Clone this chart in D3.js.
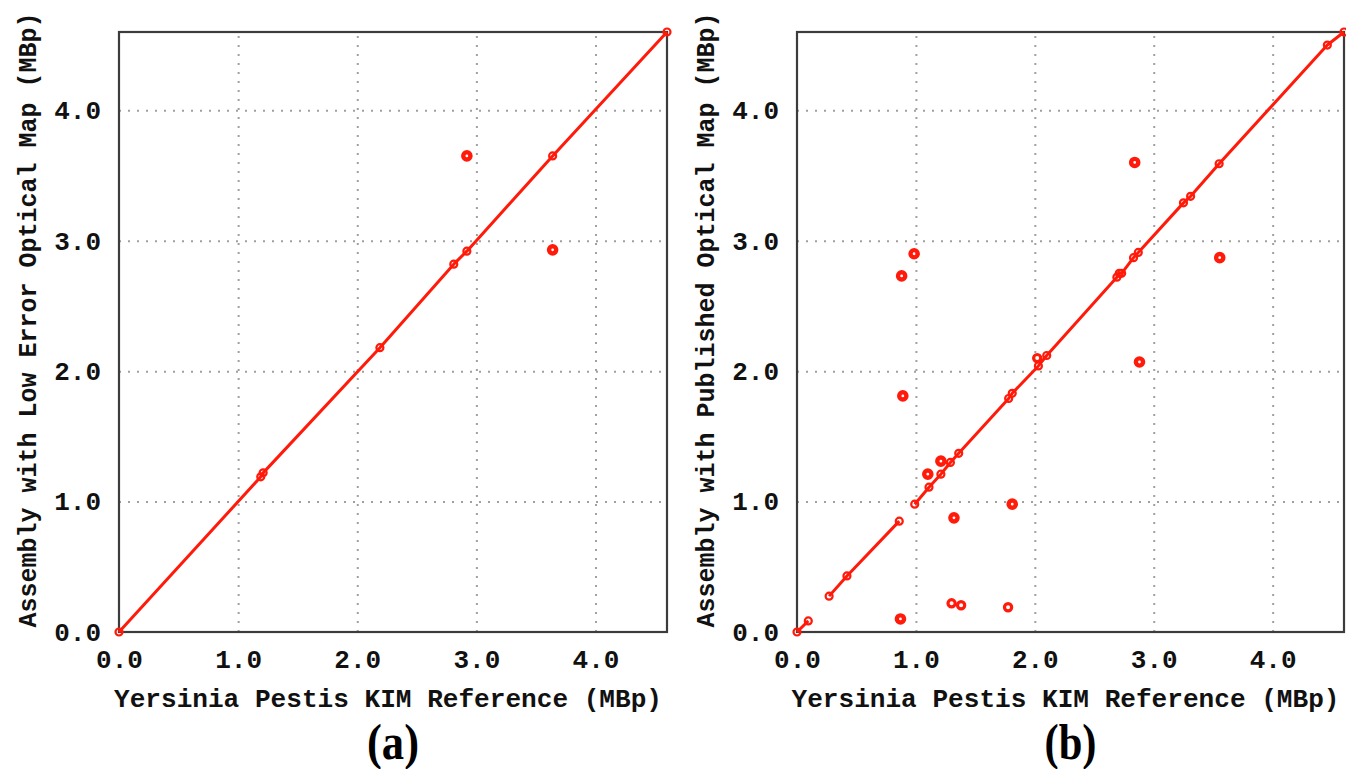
<!DOCTYPE html>
<html>
<head>
<meta charset="utf-8">
<script src="https://cdn.jsdelivr.net/npm/d3@7"></script>
<style>
  body { margin: 0; background: #fff; }
  svg { display: block; }
  .tick text { font-family: "Liberation Mono", monospace; font-weight: bold; fill: #111; }
  .ttl { font-family: "Liberation Mono", monospace; font-weight: bold; fill: #111; }
  .cap { font-family: "Liberation Serif", serif; fill: #000; }
</style>
</head>
<body>
<div id="chart"></div>
<script>
// tick values (MBp)
var ticks = [0, 1, 2, 3, 4];

// (a) low error optical map: aligned contig ends along the diagonal
var aLineRef = [0, 1.19, 1.21, 2.19, 2.81, 2.92, 3.64, 4.6];
var aLineAsm = [0, 1.19, 1.22, 2.18, 2.82, 2.92, 3.65, 4.6];
// (a) off-diagonal contigs
var aOutRef = [2.92, 3.64];
var aOutAsm = [3.65, 2.93];

// (b) published optical map: aligned points, segment id breaks the line
var bLineRef = [0, 0.095, 0.27, 0.42, 0.86, 0.99, 1.11, 1.21, 1.29, 1.36, 1.78, 1.81, 2.03, 2.10, 2.69, 2.71, 2.73, 2.83, 2.87, 3.25, 3.31, 3.55, 4.46, 4.6];
var bLineAsm = [0, 0.085, 0.275, 0.43, 0.85, 0.98, 1.11, 1.21, 1.30, 1.37, 1.79, 1.83, 2.04, 2.12, 2.72, 2.75, 2.75, 2.87, 2.91, 3.29, 3.34, 3.59, 4.50, 4.6];
var bLineSeg = [0, 0, 1, 1, 1, 2, 2, 2, 2, 2, 2, 2, 2, 2, 2, 2, 2, 2, 2, 2, 2, 2, 2, 2];
// (b) off-diagonal contigs (bold rings)
var bOutRef = [0.87, 0.88, 0.89, 0.985, 1.10, 1.21, 1.32, 1.81, 2.88, 2.84, 3.555];
var bOutAsm = [0.10, 2.73, 1.81, 2.90, 1.21, 1.31, 0.875, 0.98, 2.07, 3.60, 2.87];
// (b) other single points
var bDotRef = [1.30, 1.38, 1.775, 2.02];
var bDotAsm = [0.22, 0.205, 0.19, 2.10];

var xTitle = "Yersinia Pestis KIM Reference (MBp)";
var yTitleA = "Assembly with Low Error Optical Map (MBp)";
var yTitleB = "Assembly with Published Optical Map (MBp)";

var width = 1346, height = 769;
var svg = d3.select("#chart").append("svg").attr("width", width).attr("height", height);

function panel(box, lineRef, lineAsm, lineSeg, outRef, outAsm, dotRef, dotAsm, yTitle, cap) {
    var x = d3.scaleLinear().domain([0, 4.6]).range([box.left, box.right]);
    var y = d3.scaleLinear().domain([0, 4.6]).range([box.bottom, box.top]);
    var g = svg.append("g");

    // dotted grid
    g.append("g")
        .attr("transform", "translate(0," + box.bottom + ")")
        .call(d3.axisBottom(x).tickValues(ticks.slice(1)).tickSize(box.top - box.bottom).tickFormat(""))
        .call(function(s) { s.select(".domain").remove(); })
        .selectAll("line").attr("stroke", "#a0a0a0").attr("stroke-width", 2).attr("stroke-dasharray", "2,7");
    g.append("g")
        .attr("transform", "translate(" + box.left + ",0)")
        .call(d3.axisLeft(y).tickValues(ticks.slice(1)).tickSize(box.left - box.right).tickFormat(""))
        .call(function(s) { s.select(".domain").remove(); })
        .selectAll("line").attr("stroke", "#a0a0a0").attr("stroke-width", 2).attr("stroke-dasharray", "2,7");

    // tick labels
    g.append("g")
        .attr("transform", "translate(0," + box.bottom + ")")
        .call(d3.axisBottom(x).tickValues(ticks).tickSize(0).tickPadding(18).tickFormat(d3.format(".1f")))
        .call(function(s) { s.select(".domain").remove(); })
        .selectAll("text").attr("font-size", 26);
    g.append("g")
        .attr("transform", "translate(" + box.left + ",0)")
        .call(d3.axisLeft(y).tickValues(ticks).tickSize(0).tickPadding(18).tickFormat(d3.format(".1f")))
        .call(function(s) { s.select(".domain").remove(); })
        .selectAll("text").attr("font-size", 26);

    // frame
    g.append("rect")
        .attr("x", box.left).attr("y", box.top)
        .attr("width", box.right - box.left).attr("height", box.bottom - box.top)
        .attr("fill", "none").attr("stroke", "#3c3c3c").attr("stroke-width", 2.2);

    // diagonal line(s)
    var pts = lineRef.map(function(d, i) { return { r: d, a: lineAsm[i], s: lineSeg ? lineSeg[i] : 0 }; });
    var groups = d3.groups(pts, function(d) { return d.s; });
    var line = d3.line().x(function(d) { return x(d.r); }).y(function(d) { return y(d.a); });
    groups.forEach(function(gr) {
        g.append("path").datum(gr[1])
            .attr("d", line).attr("fill", "none")
            .attr("stroke", "#ff1a0a").attr("stroke-width", 3).attr("stroke-linejoin", "round");
    });

    g.selectAll("circle.on").data(pts).join("circle")
        .attr("class", "on")
        .attr("cx", function(d) { return x(d.r); }).attr("cy", function(d) { return y(d.a); })
        .attr("r", 3.5).attr("fill", "none").attr("stroke", "#ff1a0a").attr("stroke-width", 2.2);

    g.selectAll("circle.dot").data(dotRef).join("circle")
        .attr("class", "dot")
        .attr("cx", function(d) { return x(d); }).attr("cy", function(d, i) { return y(dotAsm[i]); })
        .attr("r", 3.6).attr("fill", "none").attr("stroke", "#ff1a0a").attr("stroke-width", 3.2);

    g.selectAll("circle.out").data(outRef).join("circle")
        .attr("class", "out")
        .attr("cx", function(d) { return x(d); }).attr("cy", function(d, i) { return y(outAsm[i]); })
        .attr("r", 3.6).attr("fill", "none").attr("stroke", "#ff1a0a").attr("stroke-width", 4.4);

    // axis titles
    g.append("text").attr("class", "ttl")
        .attr("x", (box.left + box.right) / 2 - 5).attr("y", 707)
        .attr("text-anchor", "middle").attr("font-size", 25)
        .attr("textLength", 548).attr("lengthAdjust", "spacingAndGlyphs")
        .text(xTitle);
    g.append("text").attr("class", "ttl")
        .attr("transform", "translate(" + (box.left - 83) + "," + ((box.top + box.bottom) / 2 - 12) + ") rotate(-90)")
        .attr("text-anchor", "middle").attr("font-size", 25)
        .attr("textLength", 615).attr("lengthAdjust", "spacingAndGlyphs")
        .text(yTitle);

    // panel caption
    g.append("text").attr("class", "cap")
        .attr("x", (box.left + box.right) / 2).attr("y", 759)
        .attr("text-anchor", "middle").attr("font-size", 50).attr("font-weight", "bold")
        .attr("textLength", 52).attr("lengthAdjust", "spacingAndGlyphs")
        .text(cap);
}

panel({ left: 119, right: 667, top: 32, bottom: 632 }, aLineRef, aLineAsm, null, aOutRef, aOutAsm, [], [], yTitleA, "(a)");
panel({ left: 797, right: 1344, top: 32, bottom: 632 }, bLineRef, bLineAsm, bLineSeg, bOutRef, bOutAsm, bDotRef, bDotAsm, yTitleB, "(b)");
</script>
</body>
</html>
